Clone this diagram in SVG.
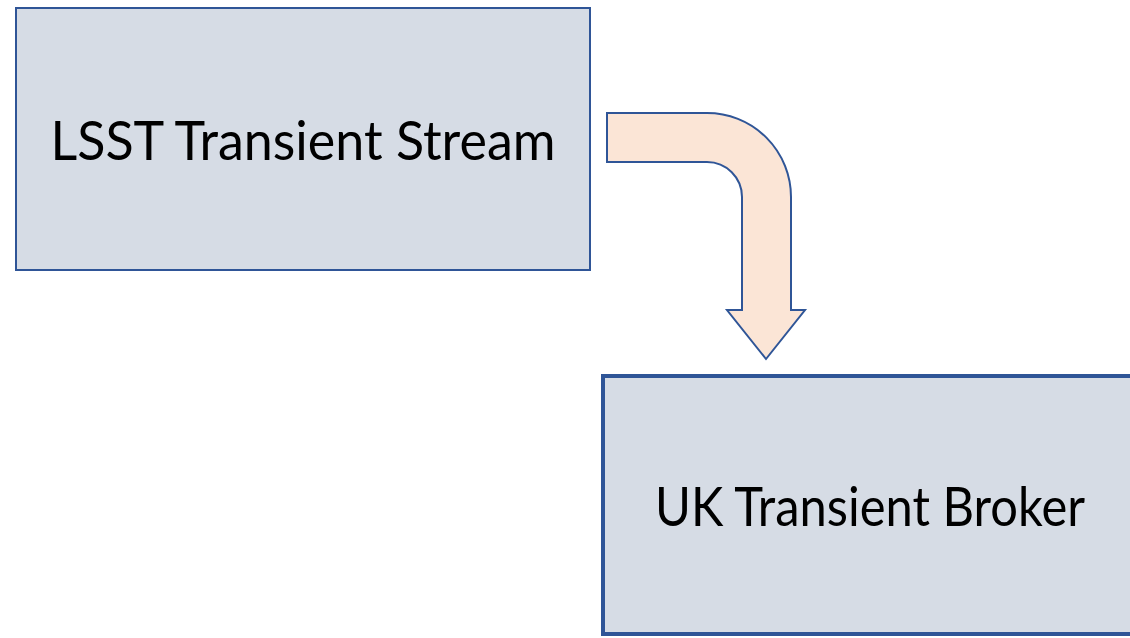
<svg xmlns="http://www.w3.org/2000/svg" width="1130" height="638" viewBox="0 0 1130 638">
<style>
.box{fill:#D6DCE5;stroke:#2F5597}
.lbl{font-family:Lato,"Open Sans",sans-serif;font-size:54px;fill:#000}
</style>
<rect width="1130" height="638" fill="#fff"/>
<g id="connectors">
<path d="M607,113 H707 A84,84 0 0 1 791,197 V310 H805 L766,359 L727,310 H742 V197 A35,35 0 0 0 707,162 H607 Z" fill="#FBE5D6" stroke="#2F5597" stroke-width="2" stroke-linejoin="miter"/>
</g>
<g id="lsst">
<rect class="box" x="16" y="8" width="574" height="262" stroke-width="2"/>
<text class="lbl" x="303" y="160" text-anchor="middle" textLength="505" lengthAdjust="spacingAndGlyphs">LSST Transient Stream</text>
</g>
<g id="broker">
<rect class="box" x="603" y="376" width="540" height="258" stroke-width="4"/>
<text class="lbl" x="870" y="526" text-anchor="middle" textLength="430" lengthAdjust="spacingAndGlyphs">UK Transient Broker</text>
</g>
</svg>
